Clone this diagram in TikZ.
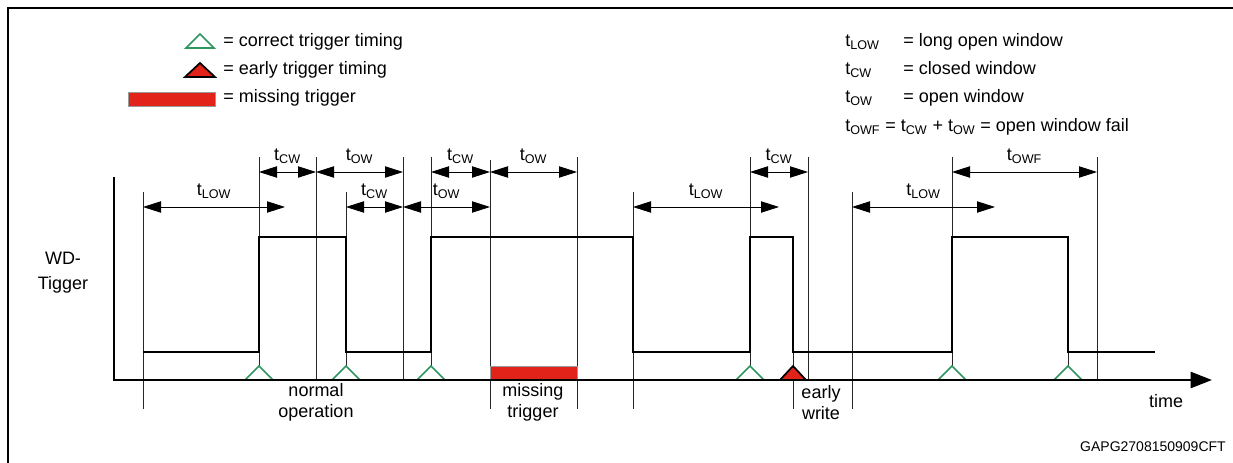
\documentclass[tikz,border=0pt]{standalone}
\usepackage{fontspec}
\setmainfont{Liberation Sans}
\usetikzlibrary{calc,arrows.meta}
\definecolor{trggreen}{RGB}{46,150,96}
\definecolor{trgred}{RGB}{226,35,26}
\newcommand{\tsb}[1]{t\textsubscript{#1}}
\tikzset{
  sigline/.style={line width=1.9pt},
  guide/.style={line width=0.6pt, black!85},
  dim/.style={line width=0.6pt, {Triangle[length=13.5pt,width=8.5pt]}-{Triangle[length=13.5pt,width=8.5pt]}},
  lbl/.style={font=\fontsize{13.5}{16}\selectfont, inner sep=0pt, anchor=base},
  oktrg/.style={draw=trggreen, line width=1.3pt, fill=white},
  earlytrg/.style={draw=black, line width=1.3pt, fill=trgred},
  missbar/.style={draw=black!40, line width=0.4pt, fill=trgred},
}

\begin{document}
\begin{tikzpicture}[x=0.75pt,y=-0.75pt]
\def\lo{352}
\def\hi{237}
\useasboundingbox (0,0) rectangle (1233,463);
\draw[line width=1.5pt] (8,463) -- (8,8) -- (1233,8);

% time marks
\foreach \n/\x in {a/143,b/259,c/316,d/346,e/403,f/431,g/490,h/577,i/633,j/750,k/793,l/808,m/852,n/952,o/1068,p/1097}
  \coordinate (t\n) at (\x,0);
\coordinate (up) at (0,172);
\coordinate (dn) at (0,207);
\coordinate (ea) at (285,207);
\coordinate (ei) at (779,207);
\coordinate (em) at (995,207);

\foreach \n/\ya/\yb in {a/192/409,b/157/366,c/157/380,d/192/366,e/157/380,f/157/366,g/160/409,h/157/409,i/192/409,j/157/366,k/352/409,l/157/380,m/192/409,n/157/366,o/352/366,p/157/380}
  \draw[guide] (t\n|-0,\ya) -- (t\n|-0,\yb);

% dimension arrows
\foreach \s/\e/\t in {tb/tc/CW,tc/te/OW,tf/tg/CW,tg/th/OW,tj/tl/CW,tn/tp/OWF}
  \draw[dim] (\s|-up) -- (\e|-up) node[lbl,midway,yshift=8.5pt] (u\s) {\tsb{\t}};
\foreach \s/\e/\t in {td/te/CW,te/tg/OW}
  \draw[dim] (\s|-dn) -- (\e|-dn) node[lbl,midway,yshift=8.5pt] (d\s) {\tsb{\t}};
\foreach \s/\e in {ta/ea,ti/ei,tm/em}
  \draw[dim] (\s|-dn) -- (\e) node[lbl,midway,yshift=8.5pt] (d\s) {\tsb{LOW}};

\draw[sigline] (143,\lo) -- (259,\lo) -- (259,\hi) -- (346,\hi) -- (346,\lo) -- (431,\lo)
  -- (431,\hi) -- (633,\hi) -- (633,\lo) -- (750,\lo) -- (750,\hi) -- (793,\hi) -- (793,\lo)
  -- (952,\lo) -- (952,\hi) -- (1068,\hi) -- (1068,\lo) -- (1155,\lo);

\foreach \x in {259,346,431,750,952,1068}
  \draw[oktrg] (\x-14,380) -- (\x,366) -- (\x+14,380);
\draw[earlytrg] (780,380) -- (793,366) -- (806,380) -- cycle;
\draw[missbar] (490,366) rectangle (577,380);
\draw[sigline,-{Triangle[length=16pt,width=12pt]}] (114,177) -- (114,380) -- (1212,380);

\node[lbl] (wd1) at (63,265) {WD-};
\node[lbl] (wd2) at (63,290) {Tigger};
\node[lbl] (norm1) at (316,397) {normal};
\node[lbl] (norm2) at (316,418) {operation};
\node[lbl] (miss1) at (533,397) {missing};
\node[lbl] (miss2) at (533,418) {trigger};
\node[lbl] (early1) at (821,399) {early};
\node[lbl] (early2) at (821,420) {write};
\node[lbl] (time) at (1166,408) {time};
\node[lbl,anchor=base east,font=\fontsize{10.5}{12}\selectfont] (fig) at (1226,452) {GAPG2708150909CFT};

% legend
\draw[oktrg] (186,48) -- (200,34) -- (214,48) -- cycle;
\draw[earlytrg] (185,77) -- (200,63) -- (215,77) -- cycle;
\draw[missbar] (128,92) rectangle (215,106);
\node[lbl,anchor=base west] (lg1) at (223,47) {= correct trigger timing};
\node[lbl,anchor=base west] (lg2) at (223,75) {= early trigger timing};
\node[lbl,anchor=base west] (lg3) at (223,103) {= missing trigger};

\node[lbl,anchor=base west] (tl1) at (845,47) {\tsb{LOW}};
\node[lbl,anchor=base west] (tl2) at (845,75) {\tsb{CW}};
\node[lbl,anchor=base west] (tl3) at (845,103) {\tsb{OW}};
\node[lbl,anchor=base west] (tx1) at (903,47) {= long open window};
\node[lbl,anchor=base west] (tx2) at (903,75) {= closed window};
\node[lbl,anchor=base west] (tx3) at (903,103) {= open window};
\node[lbl,anchor=base west] (tl4) at (845,132) {\tsb{OWF} = \tsb{CW} + \tsb{OW} = open window fail};
\end{tikzpicture}
\end{document}
